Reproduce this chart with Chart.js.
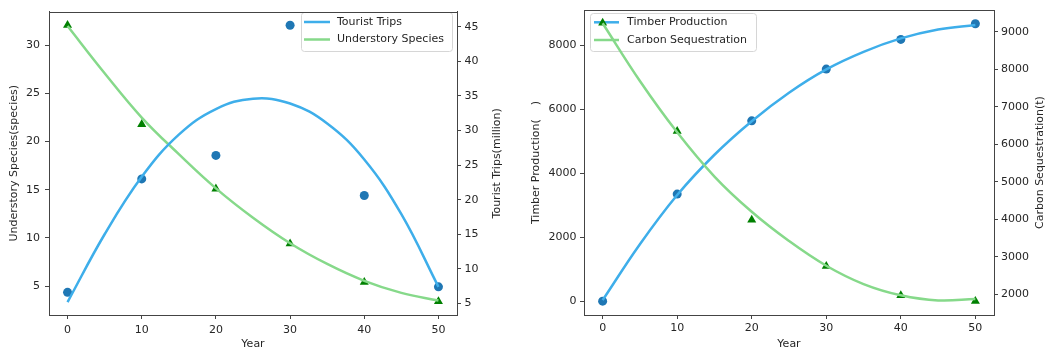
<!DOCTYPE html>
<html>
<head>
<meta charset="utf-8">
<script src="https://cdn.jsdelivr.net/npm/chart.js@4.4.1/dist/chart.umd.min.js"></script>
<style>
    body { margin: 0; background: #fff; }
    canvas { position: absolute; top: 0; }
    #left { left: 0; }
    #right { left: 525px; }
</style>
</head>
<body>
<canvas id="left" width="525" height="351"></canvas>
<canvas id="right" width="527" height="351"></canvas>
<script>
const years = [0, 10, 20, 30, 40, 50]
const fitYears = [0, 5, 10, 15, 20, 25, 30, 35, 40, 45, 50]

const touristTrips = [6.6, 23.0, 26.4, 45.2, 20.6, 7.4]
const touristFit = [5.2, 15.0, 23.3, 29.4, 33.1, 34.6, 33.9, 31.0, 25.8, 17.9, 7.4]
const understorySpecies = [32.1, 21.8, 15.1, 9.4, 5.4, 3.4]
const understoryFit = [32.0, 27.1, 22.5, 18.7, 15.15, 12.1, 9.45, 7.3, 5.55, 4.3, 3.5]

const timberProduction = [0, 3350, 5640, 7260, 8190, 8680]
const timberFit = [30, 1780, 3320, 4580, 5630, 6520, 7250, 7800, 8220, 8500, 8640]
const carbonSequestration = [9240, 6350, 3980, 2750, 1970, 1815]
const carbonFit = [9230, 7690, 6320, 5140, 4200, 3420, 2760, 2270, 1970, 1835, 1875]

const yearTicks = [0, 10, 20, 30, 40, 50]
const speciesTicks = [5, 10, 15, 20, 25, 30]
const tripsTicks = [5, 10, 15, 20, 25, 30, 35, 40, 45]
const timberTicks = [0, 2000, 4000, 6000, 8000]
const carbonTicks = [2000, 3000, 4000, 5000, 6000, 7000, 8000, 9000]

const TEXT = '#262626'
const SPINE = '#444'
const FONT = '11px "DejaVu Sans"'

Chart.defaults.font.family = '"DejaVu Sans", sans-serif'
Chart.defaults.font.size = 11
Chart.defaults.color = TEXT

const points = (xs, ys) => xs.map((x, i) => ({ x: x, y: ys[i] }))

function curve(label, xs, ys, color, axisId) {
    return {
        type: 'line', label: label, data: points(xs, ys), yAxisID: axisId,
        borderColor: color, borderWidth: 2.5, pointRadius: 0,
        tension: 0.4, fill: false
    }
}

function dots(xs, ys, color, style, radius, axisId) {
    return {
        type: 'scatter', data: points(xs, ys), yAxisID: axisId,
        backgroundColor: color, borderColor: color, borderWidth: 0,
        pointStyle: style, pointRadius: radius
    }
}

function axis(position, min, max, ticks, size, tickLength, pad, title) {
    const horizontal = position === 'bottom'
    return {
        type: 'linear', position: position, min: min, max: max,
        grid: { drawOnChartArea: false, tickLength: tickLength, color: SPINE },
        border: { display: true, color: SPINE },
        ticks: { padding: pad, color: TEXT, callback: v => String(v) },
        title: title,
        afterBuildTicks: s => { s.ticks = ticks.map(v => ({ value: v })) },
        afterFit: s => { if (horizontal) s.height = size; else s.width = size }
    }
}

// top edge of the frame (the other three sides come from the axis borders)
const frame = {
    id: 'frame',
    afterDraw(chart) {
        const { ctx, chartArea } = chart
        const y = Math.round(chartArea.top) + 0.5
        ctx.save()
        ctx.strokeStyle = SPINE
        ctx.lineWidth = 1
        ctx.beginPath()
        ctx.moveTo(Math.round(chartArea.left), y)
        ctx.lineTo(Math.round(chartArea.right) + 0.5, y)
        ctx.stroke()
        ctx.restore()
    }
}

// right axis title, rotated bottom-to-top like the left one
const rightTitle = {
    id: 'rightTitle',
    afterDraw(chart, args, opts) {
        const { ctx, chartArea } = chart
        ctx.save()
        ctx.translate(opts.x, (chartArea.top + chartArea.bottom) / 2)
        ctx.rotate(-Math.PI / 2)
        ctx.font = FONT
        ctx.fillStyle = TEXT
        ctx.textAlign = 'center'
        ctx.textBaseline = 'middle'
        ctx.fillText(opts.text, 0, 0)
        ctx.restore()
    }
}

function drawBoxLegend(chart, opts) {
    const { ctx } = chart
    const lines = chart.data.datasets.filter(d => d.type === 'line')
    const entries = opts.order.map(i => lines[i])
    ctx.save()
    ctx.beginPath()
    ctx.roundRect(opts.x + 0.5, opts.y + 0.5, opts.w, opts.h, 3)
    ctx.fillStyle = 'rgba(255,255,255,0.8)'
    ctx.fill()
    ctx.strokeStyle = '#d6d6d6'
    ctx.lineWidth = 1
    ctx.stroke()
    ctx.font = FONT
    ctx.textBaseline = 'middle'
    entries.forEach((ds, i) => {
        const y = opts.rows[i]
        ctx.strokeStyle = ds.borderColor
        ctx.lineWidth = 2.5
        ctx.beginPath()
        ctx.moveTo(opts.lineX, y)
        ctx.lineTo(opts.lineX + opts.lineLen, y)
        ctx.stroke()
        ctx.fillStyle = TEXT
        ctx.fillText(ds.label, opts.textX, y)
    })
    ctx.restore()
}

const boxLegend = {
    id: 'boxLegend',
    beforeDatasetsDraw(chart, args, opts) { if (opts.under) drawBoxLegend(chart, opts) },
    afterDatasetsDraw(chart, args, opts) { if (!opts.under) drawBoxLegend(chart, opts) }
}

const common = {
    responsive: false,
    animation: false,
    events: [],
    layout: { padding: { top: 7, left: 0, right: 0, bottom: 0 } }
}

new Chart(document.getElementById('left'), {
    type: 'scatter',
    data: {
        datasets: [
            curve('Tourist Trips', fitYears, touristFit, '#3eaeea', 'y2'),
            dots(years, touristTrips, '#1f77b4', 'circle', 4.5, 'y2'),
            curve('Understory Species', fitYears, understoryFit, '#86d98a', 'y'),
            dots(years, understorySpecies, '#008000', 'triangle', 5.2, 'y')
        ]
    },
    options: {
        ...common,
        scales: {
            x: axis('bottom', -2.5, 52.5, yearTicks, 36, 4, 4.4,
                { display: true, text: 'Year', padding: { top: 0, bottom: 0 } }),
            y: axis('left', 2.0, 33.5, speciesTicks, 49, 4, 5,
                { display: true, text: 'Understory Species(species)', padding: { top: 7.4, bottom: 0 } }),
            y2: axis('right', 3.33, 47.18, tripsTicks, 68, 4, 3.5, { display: false })
        },
        plugins: {
            legend: { display: false },
            tooltip: { enabled: false },
            rightTitle: { x: 497, text: 'Tourist Trips(million)' },
            boxLegend: {
                under: false, x: 301, y: 12, w: 151, h: 39,
                lineX: 304, lineLen: 26, textX: 337, rows: [22, 39.5], order: [0, 1]
            }
        }
    },
    plugins: [frame, rightTitle, boxLegend]
})

new Chart(document.getElementById('right'), {
    type: 'scatter',
    data: {
        datasets: [
            curve('Carbon Sequestration', fitYears, carbonFit, '#86d98a', 'y2'),
            dots(years, carbonSequestration, '#008000', 'triangle', 5.2, 'y2'),
            curve('Timber Production', fitYears, timberFit, '#3eaeea', 'y'),
            dots(years, timberProduction, '#1f77b4', 'circle', 4.5, 'y')
        ]
    },
    options: {
        ...common,
        scales: {
            x: axis('bottom', -2.5, 52.5, yearTicks, 36, 4, 2.7,
                { display: true, text: 'Year', padding: { top: 0, bottom: 0.6 } }),
            y: axis('left', -434, 9106, timberTicks, 59, 4, 3.5,
                { display: true, text: 'Timber Production(    )', padding: { top: 4.4, bottom: 0 } }),
            y2: axis('right', 1445, 9581, carbonTicks, 58, 4, 3, { display: false })
        },
        plugins: {
            legend: { display: false },
            tooltip: { enabled: false },
            rightTitle: { x: 515, text: 'Carbon Sequestration(t)' },
            boxLegend: {
                under: true, x: 65, y: 13, w: 166, h: 38,
                lineX: 69, lineLen: 25, textX: 102, rows: [22.3, 40], order: [1, 0]
            }
        }
    },
    plugins: [frame, rightTitle, boxLegend]
})
</script>
</body>
</html>
